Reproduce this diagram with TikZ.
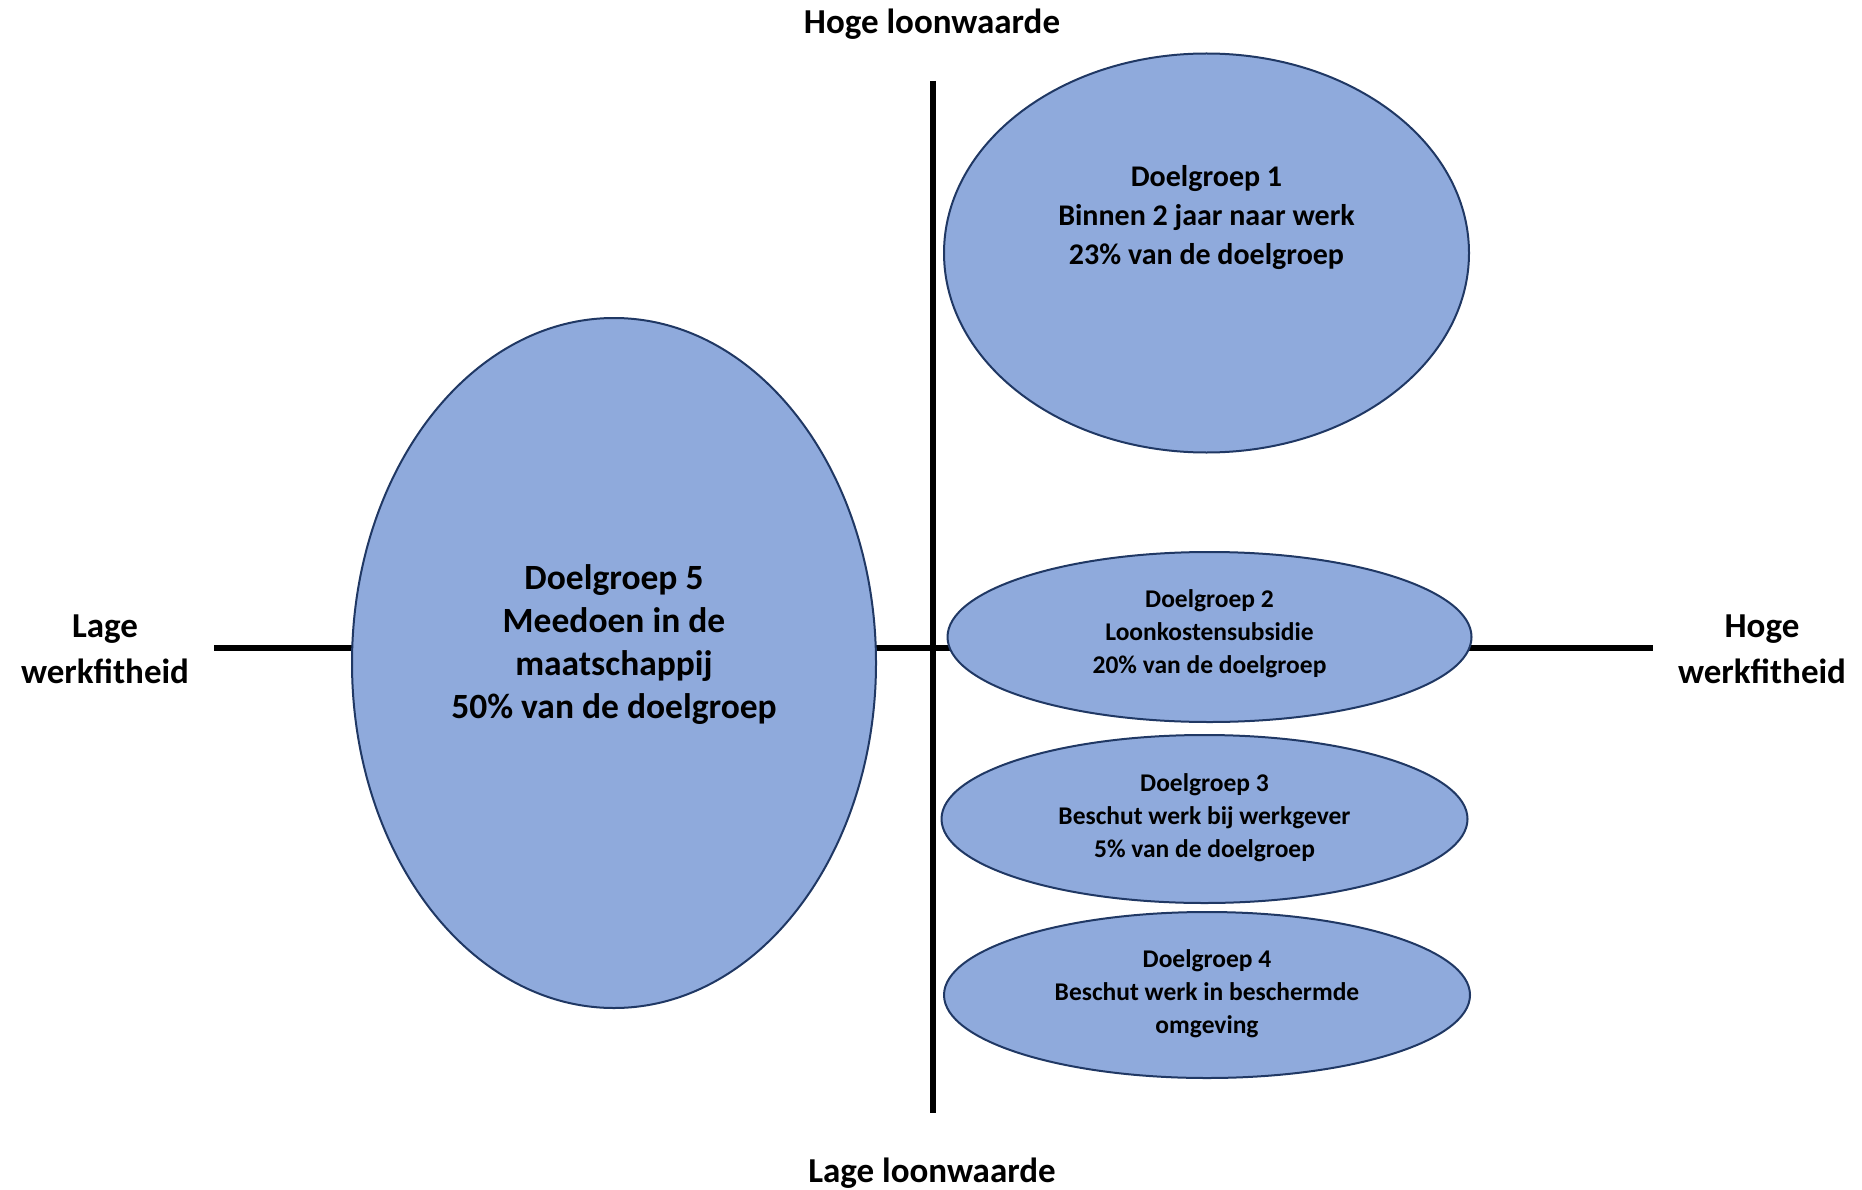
\documentclass[tikz,border=0pt]{standalone}
\usepackage{fontspec}
\setmainfont{Carlito}
\usetikzlibrary{shapes.geometric}
\definecolor{ellfill}{HTML}{8FAADC}
\definecolor{elldraw}{HTML}{203864}
\tikzset{
  ell/.style={ellipse, draw=elldraw, line width=2pt, fill=ellfill, inner sep=0pt},
  axis/.style={line width=6pt, black},
  lbl/.style={align=center, font=\bfseries\fontsize{35}{46}\selectfont, inner sep=0pt},
  bigtxt/.style={align=center, font=\bfseries\fontsize{35.5}{43}\selectfont, inner sep=0pt},
  midtxt/.style={align=center, font=\bfseries\fontsize{30}{39}\selectfont, inner sep=0pt},
  smalltxt/.style={align=center, font=\bfseries\fontsize{25.5}{33}\selectfont, inner sep=0pt}
}
\begin{document}
\begin{tikzpicture}[x=1pt,y=-1pt]
\useasboundingbox (0,0) rectangle (1862,1190);
% axes
\coordinate (vtop) at (933,81);
\coordinate (vbot) at (933,1113);
\coordinate (hleft) at (214,648);
\coordinate (hright) at (1653,648);
\draw[axis] (vtop) -- (vbot);
\draw[axis] (hleft) -- (hright);
% ellipses
\node[ell, minimum width=524pt, minimum height=690pt] (e5) at (614,663) {};
\node[ell, minimum width=525pt, minimum height=399pt] (e1) at (1206.5,253) {};
\node[ell, minimum width=524pt, minimum height=170pt] (e2) at (1209.5,637) {};
\node[ell, minimum width=526pt, minimum height=168pt] (e3) at (1204.5,819) {};
\node[ell, minimum width=526pt, minimum height=166pt] (e4) at (1207,995) {};
% texts
\node[midtxt] (t1) at ([yshift=35pt]e1.center) {Doelgroep 1\\Binnen 2 jaar naar werk\\23\% van de doelgroep};
\node[bigtxt] (t5) at ([yshift=18pt]e5.center) {Doelgroep 5\\Meedoen in de\\maatschappij\\50\% van de doelgroep};
\node[smalltxt] (t2) at ([yshift=3pt]e2.center) {Doelgroep 2\\Loonkostensubsidie\\20\% van de doelgroep};
\node[smalltxt] (t3) at ([yshift=1pt]e3.center) {Doelgroep 3\\Beschut werk bij werkgever\\5\% van de doelgroep};
\node[smalltxt] (t4) at ([yshift=1pt]e4.center) {Doelgroep 4\\Beschut werk in beschermde\\omgeving};
% axis labels
\node[lbl] (hl) at (932,24) {Hoge loonwaarde};
\node[lbl] (ll) at (932,1173) {Lage loonwaarde};
\node[lbl] (lw) at (105,649) {Lage\\werkfitheid};
\node[lbl] (hw) at (1762,649) {Hoge\\werkfitheid};
\end{tikzpicture}
\end{document}
